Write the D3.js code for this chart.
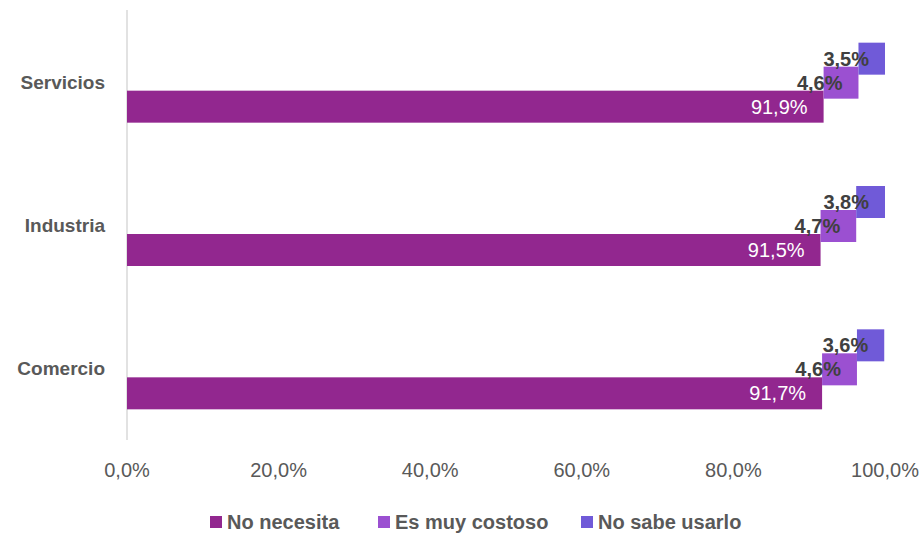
<!DOCTYPE html>
<html>
<head>
<meta charset="utf-8">
<script src="https://cdn.jsdelivr.net/npm/d3@7"></script>
<style>
  body { margin: 0; background: #fff; }
  svg { font-family: "Liberation Sans", Arial, sans-serif; }
</style>
</head>
<body>
<svg width="924" height="535"></svg>
<script>
const categories = ["Servicios", "Industria", "Comercio"];
const seriesNames = ["No necesita", "Es muy costoso", "No sabe usarlo"];
const noNecesita = [91.9, 91.5, 91.7];
const esMuyCostoso = [4.6, 4.7, 4.6];
const noSabeUsarlo = [3.5, 3.8, 3.6];
const tickValues = [0, 20, 40, 60, 80, 100];
const colors = ["#92278F", "#9B50D1", "#705AD8"];

const seriesValues = [noNecesita, esMuyCostoso, noSabeUsarlo];

const svg = d3.select("svg");

const x = d3.scaleLinear().domain([0, 100]).range([127, 885]);
const y = d3.scaleBand().domain(categories).range([10, 440]);
// series positions inside each category (bars overlap a little)
const sub = d3.scalePoint().domain(seriesNames.slice().reverse()).range([-23, 25]);
const barH = 32;

const fmt = v => v.toFixed(1).replace(".", ",") + "%";

// vertical axis line
svg.append("line")
    .attr("x1", x(0)).attr("x2", x(0))
    .attr("y1", 10).attr("y2", 440)
    .attr("stroke", "#d9d9d9")
    .attr("stroke-width", 1.5);

// category labels
svg.append("g")
    .selectAll("text")
    .data(categories)
    .enter()
    .append("text")
    .attr("x", 105)
    .attr("y", d => y(d) + y.bandwidth() / 2 + 7)
    .attr("text-anchor", "end")
    .attr("font-size", 19)
    .attr("font-weight", "bold")
    .attr("fill", "#595959")
    .text(d => d);

// x tick labels
svg.append("g")
    .selectAll("text")
    .data(tickValues)
    .enter()
    .append("text")
    .attr("x", d => x(d))
    .attr("y", 477)
    .attr("text-anchor", "middle")
    .attr("font-size", 20)
    .attr("fill", "#595959")
    .text(d => fmt(d));

// bars: each series starts where the previous one ends
seriesNames.forEach((name, si) => {
    const g = svg.append("g");
    const rows = categories.map((c, ci) => {
        let start = 0;
        for (let k = 0; k < si; k++) start += seriesValues[k][ci];
        return { cat: c, start: start, value: seriesValues[si][ci] };
    });
    g.selectAll("rect")
        .data(rows)
        .enter()
        .append("rect")
        .attr("x", d => x(d.start))
        .attr("y", d => y(d.cat) + y.bandwidth() / 2 + sub(name) - barH / 2)
        .attr("width", d => x(d.start + d.value) - x(d.start))
        .attr("height", barH)
        .attr("fill", colors[si]);

    g.selectAll("text")
        .data(rows)
        .enter()
        .append("text")
        .attr("x", d => x(d.start + d.value) - 16)
        .attr("y", d => y(d.cat) + y.bandwidth() / 2 + sub(name) + 7)
        .attr("text-anchor", "end")
        .attr("font-size", 20)
        .attr("font-weight", si == 0 ? "normal" : "bold")
        .attr("fill", si == 0 ? "#ffffff" : "#404040")
        .text(d => fmt(d.value));
});

// legend
const legendX = [210, 378, 581];
const legend = svg.append("g");
seriesNames.forEach((name, i) => {
    legend.append("rect")
        .attr("x", legendX[i])
        .attr("y", 516)
        .attr("width", 12)
        .attr("height", 12)
        .attr("fill", colors[i]);
    legend.append("text")
        .attr("x", legendX[i] + 17)
        .attr("y", 529)
        .attr("font-size", 20)
        .attr("font-weight", "bold")
        .attr("fill", "#595959")
        .text(name);
});
</script>
</body>
</html>
